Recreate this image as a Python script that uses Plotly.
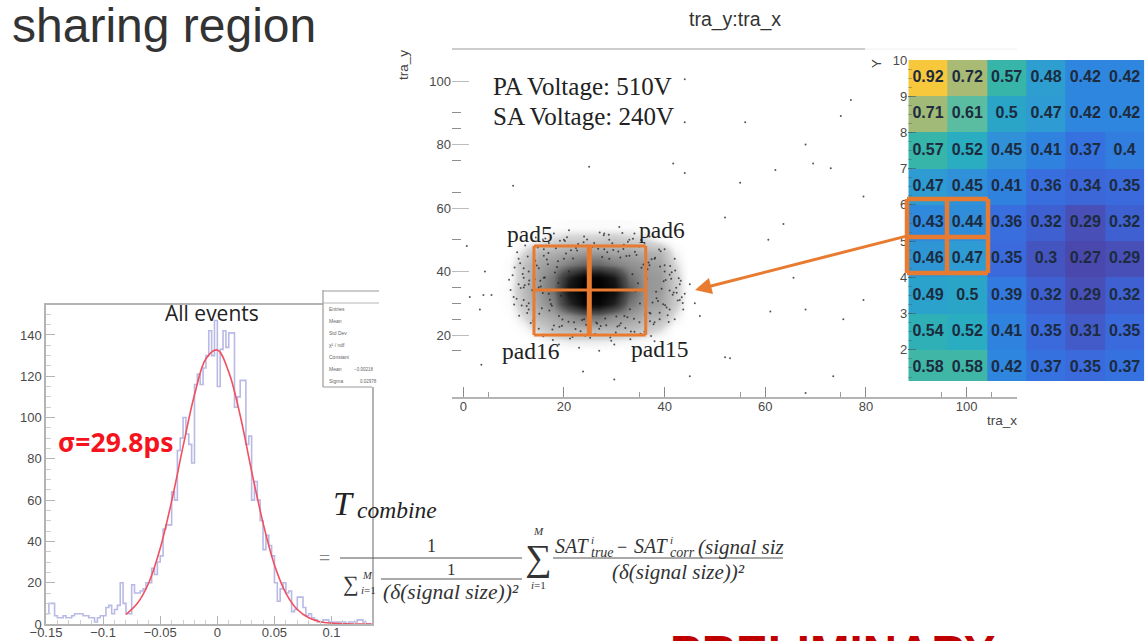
import plotly.graph_objects as go

W, H = 1147, 641

# ---------- histogram ("All events") ----------
hist_start = -0.15
hist_bin = 0.0025
hist_counts = [5,10,10,4,3,3,4,3,3,4,5,5,5,4,4,3,3,1,3,4,4,8,9,5,7,9,20,10,5,5,19,15,15,16,17,20,20,27,24,30,
               33,46,48,48,64,60,84,90,100,92,87,78,116,121,116,124,130,142,130,147,115,133,142,134,141,141,105,110,118,118,
               87,91,60,69,60,50,36,43,38,33,20,11,17,20,15,16,6,7,13,13,8,4,5,3,2,1,1,2,2,1,1,1,1,1,1,0,1,1,1,2,2,1,0,0]
fit_x = [-0.08,-0.07,-0.06,-0.05,-0.04,-0.03,-0.02,-0.01,0,0.01,0.02,0.03,0.04,0.05,0.06,0.07,0.08,0.09,0.10,0.11,0.12,0.135]
fit_y = [4.6,10,20,36.7,59.5,86,111,128.5,132.7,122,101,74,49,28.6,15,7,3,1.1,0.4,0.1,0,0]
hist_xticks = [-0.15,-0.1,-0.05,0,0.05,0.1]
hist_xlabels = ["\u22120.15","\u22120.1","\u22120.05","0","0.05","0.1"]
hist_yticks = [0,20,40,60,80,100,120,140]

# ---------- scatter (tra_y:tra_x) ----------
# The dense core cannot be read dot by dot, so it is kept as an estimated darkness table.
dens_x = [6,9,12,15,18,21,24,27,30,33,36,39,42,45]
dens_y = [54,50,46,42,38,34,30,26,22,18,14]
dens_z = [
 [0,0,0,0,.02,.03,.03,.03,.03,.03,.02,0,0,0],
 [0,0,.02,.05,.1,.13,.13,.13,.15,.12,.1,.05,.01,0],
 [0,.01,.1,.2,.22,.25,.28,.28,.25,.25,.22,.2,.06,0],
 [0,.03,.16,.25,.3,.38,.45,.45,.38,.32,.28,.25,.1,0],
 [0,.03,.16,.28,.4,.75,.98,.98,.8,.42,.3,.28,.14,0],
 [.01,.04,.18,.28,.42,.85,1,1,.9,.5,.3,.28,.14,.01],
 [0,.03,.16,.25,.36,.7,.95,.95,.75,.4,.28,.25,.14,0],
 [0,.02,.1,.2,.25,.32,.42,.42,.32,.28,.22,.2,.08,0],
 [0,0,.04,.12,.18,.2,.2,.2,.2,.18,.15,.1,.02,0],
 [0,0,0,.02,.05,.07,.07,.07,.06,.05,.03,.01,0,0],
 [0,0,0,0,0,0,0,0,0,0,0,0,0,0],
]
sparse_x = [9.9,62,79.5,55,44,41.7,25,77,44,44,52,63.6,60.6,65.6,79.5,75.5,68,61,52,53,47,43.7,4,1.3,5.6,3.3,4.3,0.7,3.6,23.8,30,45,68,73.5,69.5,73,56,68,75,
            11,12,10,13,14,12,15,16,11,13,42,43,41,44,42,40,43,41,45,46,18,21,24,28,31,34,37,19,23,27,30,35,38,17,20,26,29,33,36,
            16,20,25,29,33,38,14,18,22,31,35,39,15,19,24,28,32,37,40,13,17,21,27,34,12,15,38,41,40,39,14,16,37,36,13,12,
            9.4,10.7,11.6,12.3,13.4,14.2,15.1,16.3,17.2,18.4,19.1,20.6,21.7,22.8,23.3,24.6,25.7,26.2,27.9,28.4,29.6,30.3,31.8,32.2,33.7,34.4,35.6,36.3,37.8,38.4,39.2,40.6,41.4,42.3,
            10.2,11.1,12.8,13.7,14.8,15.6,16.9,17.7,18.8,19.7,20.2,21.4,22.3,23.9,24.2,26.8,27.3,28.9,29.2,30.8,31.3,32.7,33.3,34.9,35.2,36.8,37.2,38.9,39.7,40.2,41.8,42.8,43.4,
            9.8,10.6,11.3,12.6,13.1,14.6,15.4,16.6,17.4,18.2,33.6,34.2,35.8,36.4,37.6,38.1,39.4,40.4,41.1,42.6,43.2,
            10.1,11.8,12.2,13.9,14.3,15.8,16.2,17.6,18.6,19.4,32.4,33.1,34.7,35.4,36.1,37.4,38.7,39.8,40.8,41.6,42.1,
            9.1,11.4,12.7,14.1,15.3,16.8,17.1,18.9,34.1,35.1,36.6,37.1,38.3,39.1,40.1,41.3,42.4,43.6,
            20.4,21.8,22.4,23.6,24.8,26.4,27.6,28.2,29.8,30.4,31.2,32.6,19.6,20.9,22.6,24.4,26.6,28.6,30.6,31.9,33.9,
            14.4,15.9,17.8,19.2,21.2,23.1,25.2,27.1,29.4,31.6,33.2,35.3,37.3]
sparse_y = [67,72,63.6,68,71,74,73,94,100.6,87,57,55,50,38,31,25,28,27.4,13,12.7,26,28,32.6,32,32.6,28,40,48,10.6,8.5,6,7,1.7,7,74,72.5,87,80,89,
            44,38,32,28,25,41,22,47,36,30,44,36,28,33,25,42,31,39,36,30,52,53,51,52,54,52,51,17,16,15,17,16,18,49,50,49,50,50,49,
            45,44,46,44,45,44,24,23,24,23,24,25,41,26,25,47,26,27,40,36,33,40,22,21,31,35,24,34,47,27,28,38,42,21,40,35,
            34.2,46.1,29.3,48.2,23.8,37.6,26.7,50.4,31.1,47.3,22.6,50.8,19.4,48.7,21.2,50.1,47.8,20.3,51.4,23.1,48.9,20.8,47.1,22.2,50.3,45.2,20.1,47.7,23.4,31.6,46.4,26.2,39.8,34.9,
            41.3,26.1,44.7,34.1,47.6,28.4,45.8,21.7,43.2,24.9,49.6,46.7,21.9,49.2,19.8,47.2,22.8,51.6,19.2,46.3,23.7,49.4,21.1,47.9,20.4,42.8,26.8,46.9,29.7,37.3,33.4,37.9,31.9,
            38.8,31.4,42.6,29.1,37.2,41.9,35.3,43.8,29.8,39.7,39.1,33.8,42.2,37.7,30.2,44.3,34.6,28.7,41.7,30.9,37.1,
            29.6,39.2,35.7,24.6,43.4,33.2,38.1,29.2,41.4,32.4,44.9,28.1,36.3,41.2,26.4,43.9,30.7,36.9,24.1,32.7,40.3,
            37.4,34.8,26.9,31.2,37.1,42.3,27.7,36.4,46.2,29.9,40.7,24.3,33.6,41.6,29.4,37.7,33.3,30.1,
            45.7,44.1,47.4,24.7,45.3,23.9,44.6,25.2,46.8,25.8,44.4,25.6,22.9,24.2,46.6,23.2,23.6,46.1,22.7,48.4,25.1,
            50.7,19.6,18.4,49.7,18.9,48.1,19.1,52.3,18.2,52.1,18.7,49.9,19.7]

# ---------- heat map ----------
heat_rows = [
 [0.92,0.72,0.57,0.48,0.42,0.42],
 [0.71,0.61,0.5,0.47,0.42,0.42],
 [0.57,0.52,0.45,0.41,0.37,0.4],
 [0.47,0.45,0.41,0.36,0.34,0.35],
 [0.43,0.44,0.36,0.32,0.29,0.32],
 [0.46,0.47,0.35,0.3,0.27,0.29],
 [0.49,0.5,0.39,0.32,0.29,0.32],
 [0.54,0.52,0.41,0.35,0.31,0.35],
 [0.58,0.58,0.42,0.37,0.35,0.37],
]
heat_y_edges = [1.14,2,3,4,5,6,7,8,9,10]
heat_x_edges = [0,1,2,3,4,5,6]
heat_text_y = [9.5,8.5,7.5,6.5,5.5,4.5,3.5,2.5,1.5]
heat_text_x = [0.5,1.5,2.5,3.5,4.5,5.5]
heat_yticks = [2,3,4,5,6,7,8,9,10]
heat_stops = [(0.27,"#4a48ac"),(0.29,"#4850b8"),(0.32,"#3f60d0"),(0.35,"#3a6adc"),(0.37,"#3572e0"),(0.42,"#2f86df"),
              (0.45,"#3090d8"),(0.47,"#2e9bd2"),(0.5,"#2aa5c8"),(0.52,"#2aadc0"),(0.57,"#37b5a8"),(0.61,"#5abca0"),
              (0.72,"#a9ba74"),(0.92,"#f8c83c")]

ORANGE = "#E87B30"
GRID = "#b4b4b4"
TICKTXT = "#4a4a4a"

def px(x): return x / W
def py(y): return 1 - y / H

fig = go.Figure()

# histogram
edges = [hist_start + i * hist_bin for i in range(len(hist_counts) + 1)]
fig.add_trace(go.Scatter(x=edges, y=hist_counts + [hist_counts[-1]], mode="lines", line=dict(shape="hv", color="#b9b9e6", width=1.6),
                         xaxis="x", yaxis="y", hoverinfo="skip"))
fig.add_trace(go.Scatter(x=fit_x, y=fit_y, mode="lines", line=dict(shape="spline", color="#f0505f", width=1.6),
                         xaxis="x", yaxis="y", hoverinfo="skip"))

# scatter cloud
fig.add_trace(go.Heatmap(x=dens_x, y=dens_y[::-1], z=dens_z[::-1], zmin=0, zmax=1, zsmooth="best", showscale=False,
                         colorscale=[[0,"rgba(255,255,255,0)"],[0.1,"rgba(215,215,215,1)"],[0.25,"rgba(165,165,165,1)"],[0.5,"rgba(85,85,85,1)"],[0.8,"rgba(25,25,25,1)"],[1,"rgba(0,0,0,1)"]],
                         xaxis="x2", yaxis="y2", hoverinfo="skip"))
fig.add_trace(go.Scatter(x=sparse_x, y=sparse_y, mode="markers", marker=dict(size=2, color="rgba(30,30,30,0.75)"),
                         xaxis="x2", yaxis="y2", hoverinfo="skip"))

# heat map
vmin, vmax = heat_stops[0][0], heat_stops[-1][0]
fig.add_trace(go.Heatmap(x=heat_x_edges, y=heat_y_edges, z=heat_rows[::-1], zmin=vmin, zmax=vmax, showscale=False,
                         colorscale=[[(v - vmin) / (vmax - vmin), c] for v, c in heat_stops],
                         xaxis="x3", yaxis="y3", hoverinfo="skip"))
tx, ty, tt = [], [], []
for r, row in enumerate(heat_rows):
    for c, v in enumerate(row):
        tx.append(heat_text_x[c]); ty.append(heat_text_y[r]); tt.append("<b>%s</b>" % v)
fig.add_trace(go.Scatter(x=tx, y=ty, text=tt, mode="text", textposition="middle center",
                         textfont=dict(family="Liberation Sans", size=16, color="#1c2b3e"),
                         xaxis="x3", yaxis="y3", hoverinfo="skip"))

def dom_x(a, b): return [px(a), px(b)]
def dom_y(top, bottom): return [py(bottom), py(top)]

tickfont = dict(family="Liberation Sans", size=13, color=TICKTXT)
layout = dict(
    width=W, height=H, margin=dict(l=0, r=0, t=0, b=0, autoexpand=False), paper_bgcolor="white", plot_bgcolor="rgba(0,0,0,0)", showlegend=False,
    xaxis=dict(domain=dom_x(46, 372), range=[-0.15, 0.1354], anchor="y", tickmode="array", tickvals=hist_xticks, ticktext=hist_xlabels,
               ticks="inside", ticklen=8, tickcolor=GRID, showgrid=False, zeroline=False, showline=True, linecolor=GRID, linewidth=1.5,
               mirror=True, tickfont=tickfont, ticklabelstandoff=-4, minor=dict(dtick=0.01, ticks="inside", ticklen=4, tickcolor="#cfcfcf", showgrid=False)),
    yaxis=dict(domain=dom_y(305, 624), range=[0, 154.5], anchor="x", tickmode="array", tickvals=hist_yticks,
               ticks="inside", ticklen=9, tickcolor=GRID, showgrid=False, zeroline=False, showline=True, linecolor=GRID, linewidth=1.5,
               mirror=True, tickfont=tickfont, minor=dict(dtick=5, ticks="inside", ticklen=5, tickcolor="#cfcfcf", showgrid=False)),
    xaxis2=dict(domain=dom_x(452, 1017), range=[-2.24, 110], anchor="y2", tickmode="array", tickvals=[0,20,40,60,80,100],
                ticks="inside", ticklen=10, tickcolor="#8a8a8a", showgrid=False, zeroline=False, showline=True, linecolor=GRID, linewidth=1.5,
                tickfont=tickfont, ticklabelstandoff=-3, minor=dict(tickmode="array", tickvals=[5,35,55,75,95,105], ticks="inside", ticklen=5, tickcolor="#9a9a9a", showgrid=False)),
    yaxis2=dict(domain=dom_y(49.3, 397), range=[0.47, 110], anchor="x2", tickmode="array", tickvals=[20,40,60,80,100],
                ticks="inside", ticklen=17, tickcolor="#bdbdbd", showgrid=False, zeroline=False, showline=False,
                tickfont=tickfont, minor=dict(tickmode="array", tickvals=[15,25,30,35,50,65,75,85,90], ticks="inside", ticklen=9, tickcolor="#8f8f8f", showgrid=False)),
    xaxis3=dict(domain=dom_x(908.3, 1144.3), range=[0, 6], anchor="y3", showticklabels=False, ticks="", showgrid=False, zeroline=False, showline=False),
    yaxis3=dict(domain=dom_y(60, 381), range=[1.14, 10], anchor="x3", tickmode="array", tickvals=heat_yticks,
                ticks="inside", ticklen=8, tickcolor="rgba(70,90,90,0.6)", showgrid=False, zeroline=False, showline=False,
                tickfont=tickfont, minor=dict(dtick=0.25, ticks="inside", ticklen=4, tickcolor="rgba(70,90,90,0.4)", showgrid=False)),
)
fig.update_layout(**layout)

def seg(x0, y0, x1, y1, color, width):
    fig.add_shape(type="line", xref="paper", yref="paper", x0=px(x0), y0=py(y0), x1=px(x1), y1=py(y1),
                  line=dict(color=color, width=width), layer="above")

def note(x, y, text, size, color="#222", family="Liberation Sans", anchor="center", angle=0):
    fig.add_annotation(x=px(x), y=py(y), xref="paper", yref="paper", text=text, showarrow=False, xanchor=anchor, yanchor="middle",
                       font=dict(family=family, size=size, color=color), textangle=angle)

# scatter frame top
seg(452, 49, 865, 49, "#bdbdbd", 1.5)
seg(865, 49, 1017, 49, "#f0f0f0", 1)

# stats box, cut off on its right-hand side
fig.add_shape(type="rect", xref="paper", yref="paper", x0=px(323), x1=px(379), y0=py(387), y1=py(290), fillcolor="white", line_width=0, layer="above")
seg(323, 291, 379, 291, "#9a9a9a", 1.2)
seg(323, 290, 323, 387, "#9a9a9a", 1.2)
seg(323, 387, 372, 387, "#9a9a9a", 1.2)
seg(323, 303, 379, 303, "#b5b5b5", 1)
for yy, lab in zip([309,321,333,345,357,369,381], ["Entries","Mean","Std Dev","\u03c7\u00b2 / ndf","Constant","Mean","Sigma"]):
    note(327, yy, lab, 5, "#666", anchor="left")
note(352, 369, "\u22120.00218", 4.5, "#666", anchor="left")
note(358, 381, "0.02978", 4.5, "#666", anchor="left")

# orange overlays
for a in [(534,246,645.7,246),(534,335,645.7,335),(534,246,534,335),(645.7,246,645.7,335),(534,290,645.7,290)]:
    seg(*a, ORANGE, 3)
seg(589.3, 246, 589.3, 335, ORANGE, 5)
for a in [(907,199,988,199),(907,273,988,273),(907,199,907,273),(988,199,988,273),(907,237,988,237),(947,199,947,273)]:
    seg(*a, ORANGE, 4.5)
fig.add_annotation(x=px(695), y=py(290), xref="paper", yref="paper", text="", showarrow=True, ax=907-695, ay=236-290, axref="pixel", ayref="pixel",
                   arrowcolor=ORANGE, arrowwidth=3, arrowhead=2, arrowsize=1.1, standoff=0)

# texts
note(10, 25, "sharing region", 48, "#333", anchor="left")
note(735, 19, "tra_y:tra_x", 19.5, "#333")
note(404, 65, "tra_y", 13.5, "#444", angle=-90)
note(876, 64, "Y", 13, "#444", angle=-90)
note(1002, 420, "tra_x", 13.5, "#444")
SERIF = "Liberation Serif"
note(491, 87, "PA Voltage: 510V", 25, "#222", SERIF, "left")
note(491, 117, "SA Voltage: 240V", 25, "#222", SERIF, "left")
note(530, 234, "pad5", 23.5, "#222", SERIF)
note(662, 230, "pad6", 23.5, "#222", SERIF)
note(531, 351, "pad16", 23.5, "#222", SERIF)
note(659, 349, "pad15", 23.5, "#222", SERIF)
note(212, 313, "All events", 21, "#222", "Open Sans")
note(116, 442, "<b>\u03c3=29.8ps</b>", 26.5, "#f5141e", "Noto Sans")

# formula
MATH = "#333"
note(331, 503, "<i>T</i>", 34, "#222", SERIF, "left")
note(355, 510, "<i>combine</i>", 23.5, "#222", SERIF, "left")
note(324, 558, "=", 20, "#888", SERIF)
seg(340, 558, 522, 558, "#555", 1)
note(431, 546, "1", 18, MATH, SERIF)
note(341, 583, "\u2211", 22, MATH, SERIF, "left")
note(360, 575, "<i>M</i>", 10.5, MATH, SERIF, "left")
note(359, 590, "<i>i</i>=1", 11, MATH, SERIF, "left")
note(451, 569, "1", 17, MATH, SERIF)
seg(381, 579, 522, 579, "#555", 1)
note(451, 592, "<i>(\u03b4(signal size))\u00b2</i>", 21.5, MATH, SERIF)
note(538, 557, "\u2211", 37, MATH, SERIF)
note(538, 531, "<i>M</i>", 11, MATH, SERIF)
note(538, 585, "<i>i</i>=1", 11, MATH, SERIF)
note(553, 546, "<i>SAT</i>", 20, MATH, SERIF, "left")
note(589, 552, "<i>true</i>", 14, MATH, SERIF, "left")
note(589, 540, "<i>i</i>", 11, MATH, SERIF, "left")
note(622, 547, "\u2212", 18, MATH, SERIF)
note(632, 546, "<i>SAT</i>", 20, MATH, SERIF, "left")
note(668, 552, "<i>corr</i>", 14, MATH, SERIF, "left")
note(668, 540, "<i>i</i>", 11, MATH, SERIF, "left")
note(696, 547, "<i>(signal siz</i>", 21, MATH, SERIF, "left")
seg(553, 558, 783, 558, "#555", 1)
note(678, 572, "<i>(\u03b4(signal size))\u00b2</i>", 21, MATH, SERIF)

note(832, 652.5, "<b>PRELIMINARY</b>", 47.5, "#c00000")

fig.write_html("out.html", config=dict(displayModeBar=False),
               post_script="document.body.style.margin='0';document.body.style.overflow='hidden';")
